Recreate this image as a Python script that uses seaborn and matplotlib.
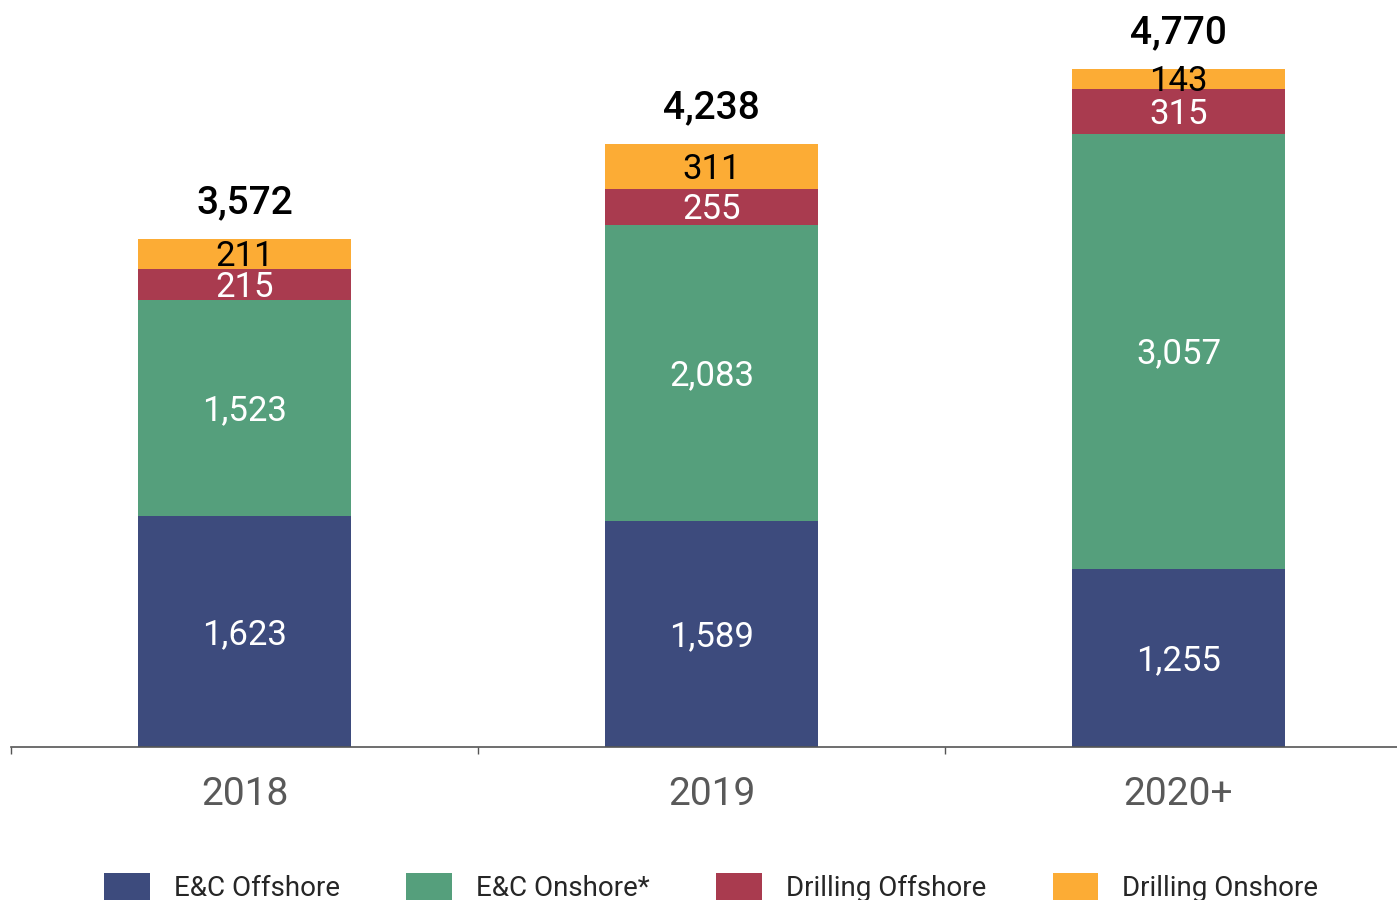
import numpy as np
import pandas as pd
import seaborn as sns
import matplotlib.pyplot as plt
from matplotlib.patches import Patch

# данные с графика
years = ['2018', '2019', '2020+']
ec_offshore = [1623, 1589, 1255]
ec_onshore = [1523, 2083, 3057]
drill_offshore = [215, 255, 315]
drill_onshore = [211, 311, 143]
totals = [3572, 4238, 4770]

series_names = ['E&C Offshore', 'E&C Onshore*', 'Drilling Offshore', 'Drilling Onshore']
colors = ['#3d4b7d', '#559f7c', '#a93b4f', '#fcac35']
text_colors = ['white', 'white', 'white', 'black']

df = pd.DataFrame({'Year': years,
                   'E&C Offshore': ec_offshore,
                   'E&C Onshore*': ec_onshore,
                   'Drilling Offshore': drill_offshore,
                   'Drilling Onshore': drill_onshore})
cum = df[series_names].cumsum(axis=1)

sns.set_style('white')
plt.rcParams['font.family'] = ['Roboto', 'DejaVu Sans']

fig = plt.figure(figsize=(13.97, 9), dpi=100)
ax = fig.add_axes([11 / 1397, 153 / 900, 1386 / 1397, 747 / 900])

# стопка: рисуем накопленные суммы сверху вниз
for name, c in reversed(list(zip(series_names, colors))):
    sns.barplot(x=df['Year'], y=cum[name], color=c, width=0.456, saturation=1,
                linewidth=0, ax=ax)

ax.set_xlim(-0.5, 2.468)
ax.set_ylim(0, 5253)

# подписи сегментов
for i in range(len(years)):
    bottom = 0
    for name, tc in zip(series_names, text_colors):
        v = df[name][i]
        ax.annotate(f'{v:,}', (i, bottom + v / 2), xytext=(0, -2), textcoords='offset points',
                    ha='center', va='center', color=tc, fontsize=25)
        bottom += v
    ax.annotate(f'{totals[i]:,}', (i, totals[i]), xytext=(0, 26), textcoords='offset points',
                ha='center', va='center', fontsize=28, fontweight='medium', color='black')

ax.set_xlabel('')
ax.set_ylabel('')
ax.set_yticks([])
for s in ['top', 'right', 'left']:
    ax.spines[s].set_visible(False)
ax.spines['bottom'].set_color('#555555')
ax.spines['bottom'].set_linewidth(1.2)
ax.set_xticks([0, 1, 2])
ax.set_xticklabels(years, fontsize=28, color='#595959')
ax.set_xticks([-0.5, 0.5, 1.5], minor=True)
ax.tick_params(axis='x', which='major', length=0, pad=21)
ax.tick_params(axis='x', which='minor', length=5, color='#555555', width=1, direction='out', bottom=True)

handles = [Patch(facecolor=c, edgecolor='none') for c in colors]
fig.legend(handles, series_names, loc='center', bbox_to_anchor=(0.509, 0.014), ncol=4,
           frameon=False, prop={'size': 20},
           handlelength=1.65, handleheight=1.1, handletextpad=0.85, columnspacing=2.4)

fig.savefig('out.png', dpi=100)
